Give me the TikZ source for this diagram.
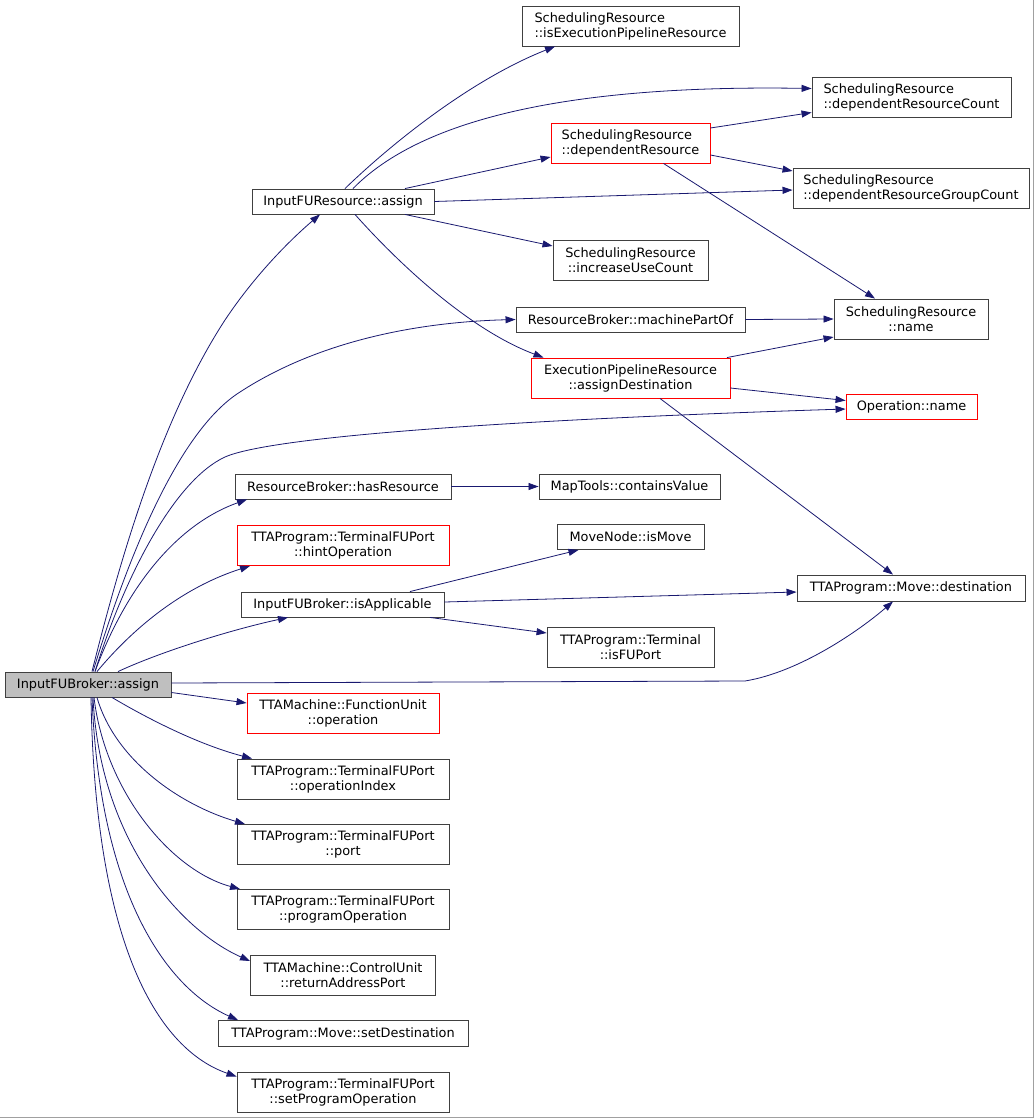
\documentclass[tikz,border=0pt]{standalone}
\usepackage{fontspec}
\setmainfont{DejaVu Sans}
\usetikzlibrary{arrows.meta}
\definecolor{edgeblue}{HTML}{191970}
\definecolor{boxgray}{HTML}{404040}
\definecolor{rootfill}{HTML}{BFBFBF}
\definecolor{framegray}{HTML}{A0A0A0}
\begin{document}
\begin{tikzpicture}[x=1pt,y=-1pt,
  box/.style={draw=boxgray, line width=0.9pt, inner sep=0pt, fill=white,
    font=\fontsize{12.9}{15}\selectfont, align=center},
  lbox/.style={box, align=left},
  redbox/.style={box, draw=red},
  lredbox/.style={lbox, draw=red},
  one/.style={minimum height=25pt},
  two/.style={minimum height=40pt},
  edge/.style={draw=edgeblue, line width=0.8pt, -{Triangle[length=10pt,width=7pt]}},
]
\useasboundingbox (0,0) rectangle (1035,1119);
\fill[white] (0,0) rectangle (1035,1119);
\draw[framegray, line width=1pt] (1033.5,0) -- (1033.5,1117.5) -- (0,1117.5);

% nodes
\node[box, one, minimum width=166pt, fill=rootfill] (root) at (88,684.5) {InputFUBroker::assign};
\node[box, one, minimum width=182pt] (ifr) at (343,201.5) {InputFUResource::assign};
\node[lbox, two, minimum width=217pt] (isExec) at (630.5,26) {SchedulingResource\\::isExecutionPipelineResource};
\node[lbox, two, minimum width=199pt] (depCount) at (911.5,97.5) {SchedulingResource\\::dependentResourceCount};
\node[lredbox, two, minimum width=159pt] (depRes) at (630.5,143) {SchedulingResource\\::dependentResource};
\node[lbox, two, minimum width=236pt] (groupCount) at (911,188) {SchedulingResource\\::dependentResourceGroupCount};
\node[box, two, minimum width=155pt] (incUse) at (630.5,260) {SchedulingResource\\::increaseUseCount};
\node[box, one, minimum width=229pt] (machinePartOf) at (630.5,319.5) {ResourceBroker::machinePartOf};
\node[box, two, minimum width=154pt] (name) at (911,319) {SchedulingResource\\::name};
\node[redbox, two, minimum width=199pt] (assignDest) at (630.5,378) {ExecutionPipelineResource\\::assignDestination};
\node[redbox, one, minimum width=131pt] (opName) at (911.5,406.5) {Operation::name};
\node[box, one, minimum width=216pt] (hasResource) at (343,486.5) {ResourceBroker::hasResource};
\node[box, one, minimum width=181pt] (containsValue) at (629.5,486.5) {MapTools::containsValue};
\node[redbox, two, minimum width=212pt] (hintOp) at (343,545.5) {TTAProgram::TerminalFUPort\\::hintOperation};
\node[box, one, minimum width=147pt] (isMove) at (630.5,537) {MoveNode::isMove};
\node[box, one, minimum width=203pt] (isApplicable) at (342.5,604.5) {InputFUBroker::isApplicable};
\node[box, one, minimum width=228pt, minimum height=26pt] (destination) at (911,588) {TTAProgram::Move::destination};
\node[box, two, minimum width=167pt] (isFUPort) at (630.5,647) {TTAProgram::Terminal\\::isFUPort};
\node[redbox, two, minimum width=192pt] (fuOp) at (343,713) {TTAMachine::FunctionUnit\\::operation};
\node[box, two, minimum width=212pt] (opIndex) at (343,779) {TTAProgram::TerminalFUPort\\::operationIndex};
\node[box, two, minimum width=212pt] (port) at (343,844.5) {TTAProgram::TerminalFUPort\\::port};
\node[box, two, minimum width=212pt] (progOp) at (343,909.5) {TTAProgram::TerminalFUPort\\::programOperation};
\node[box, two, minimum width=185pt] (retAddr) at (343,975) {TTAMachine::ControlUnit\\::returnAddressPort};
\node[box, one, minimum width=250pt, minimum height=26pt] (setDest) at (343,1033.5) {TTAProgram::Move::setDestination};
\node[box, two, minimum width=212pt] (setProgOp) at (343,1092.5) {TTAProgram::TerminalFUPort\\::setProgramOperation};

% edges from root
\draw[edge] ([xshift=4pt]root.north) .. controls (120,560) and (160,420) .. (225,320) .. controls (255,275) and (290,240) .. ([xshift=-23pt]ifr.south);
\draw[edge] ([xshift=5pt]root.north) .. controls (130,550) and (180,430) .. (240,392) .. controls (320,340) and (420,322) .. (machinePartOf.west);
\draw[edge] ([xshift=7pt]root.north) .. controls (125,575) and (175,480) .. (225,457) .. controls (270,437) and (500,420) .. ([yshift=-2.5pt]opName.west);
\draw[edge] ([xshift=7pt]root.north) .. controls (125,590) and (175,525) .. ([xshift=-96pt]hasResource.south);
\draw[edge] ([xshift=9pt]root.north) .. controls (140,620) and (190,585) .. ([xshift=-93pt]hintOp.south);
\draw[edge] ([xshift=30pt]root.north) .. controls (160,652) and (230,630) .. ([xshift=-54.5pt]isApplicable.south);
\draw[edge] ([yshift=1.5pt]root.east) -- (745,681) .. controls (800,672) and (860,630) .. ([xshift=-18pt]destination.south);
\draw[edge] ([yshift=-8pt]root.east) -- ([yshift=10pt]fuOp.west);
\draw[edge] ([xshift=24pt]root.south) .. controls (150,720) and (200,745) .. ([xshift=-91pt]opIndex.north);
\draw[edge] ([xshift=9pt]root.south) .. controls (115,760) and (180,805) .. ([xshift=-98pt]port.north);
\draw[edge] ([xshift=6pt]root.south) .. controls (105,790) and (170,870) .. ([xshift=-103pt]progOp.north);
\draw[edge] ([xshift=5pt]root.south) .. controls (100,840) and (180,930) .. ([yshift=14pt]retAddr.west);
\draw[edge] ([xshift=4pt]root.south) .. controls (100,900) and (170,990) .. ([xshift=-105pt]setDest.north);
\draw[edge] ([xshift=3pt]root.south) .. controls (95,950) and (160,1050) .. ([yshift=16pt]setProgOp.west);

% edges from InputFUResource::assign
\draw[edge] ([xshift=2pt]ifr.north) .. controls (390,145) and (470,80) .. ([xshift=-75.5pt]isExec.south);
\draw[edge] ([xshift=10pt]ifr.north) .. controls (430,110) and (600,85) .. ([yshift=9pt]depCount.west);
\draw[edge] ([xshift=62pt]ifr.north) -- ([yshift=-14pt]depRes.west);
\draw[edge] (ifr.east) -- ([yshift=-2pt]groupCount.west);
\draw[edge] ([xshift=62pt]ifr.south) -- ([yshift=14pt]incUse.west);
\draw[edge] ([xshift=12pt]ifr.south) .. controls (400,265) and (470,330) .. ([xshift=-87pt]assignDest.north);

% edges from dependentResource
\draw[edge] ([yshift=15pt]depRes.east) -- ([yshift=-15pt]depCount.west);
\draw[edge] ([yshift=-12pt]depRes.east) -- ([yshift=17pt]groupCount.west);
\draw[edge] ([xshift=33pt]depRes.south) -- ([xshift=-36pt]name.north);

% other edges
\draw[edge] (machinePartOf.east) -- (name.west);
\draw[edge] ([xshift=96.5pt]assignDest.north) -- ([yshift=-18pt]name.west);
\draw[edge] ([yshift=-10pt]assignDest.east) -- ([yshift=6pt]opName.west);
\draw[edge] ([xshift=29.5pt]assignDest.south) -- ([xshift=-18pt]destination.north);
\draw[edge] (hasResource.east) -- (containsValue.west);
\draw[edge] ([xshift=67.5pt]isApplicable.north) -- ([xshift=-52pt]isMove.south);
\draw[edge] ([yshift=2.5pt]isApplicable.east) -- ([yshift=-4pt]destination.west);
\draw[edge] ([xshift=87.5pt]isApplicable.south) -- ([yshift=14pt]isFUPort.west);
\end{tikzpicture}
\end{document}
